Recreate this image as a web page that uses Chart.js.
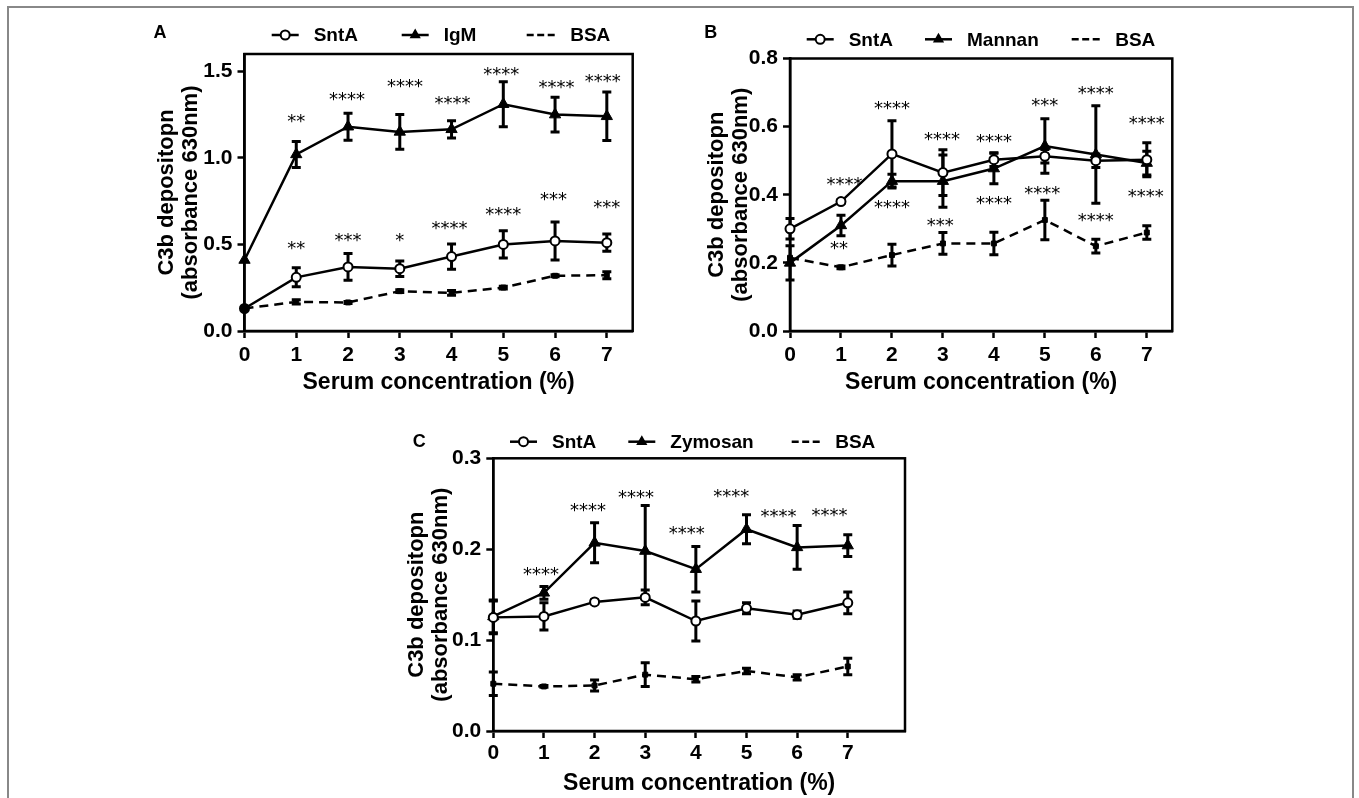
<!DOCTYPE html>
<html>
<head>
<meta charset="utf-8">
<script src="https://cdn.jsdelivr.net/npm/chart.js@4.4.0/dist/chart.umd.min.js"></script>
<style>
  html, body { margin: 0; padding: 0; background: #fff; }
  body { width: 1359px; height: 798px; position: relative; overflow: hidden; }
  #frame { position: absolute; left: 7px; top: 6px; width: 1343px; height: 820px;
           border: 2px solid #888; border-bottom: none; }
  canvas { position: absolute; }
</style>
</head>
<body>
<div id="frame"></div>
<canvas id="chartA" width="520" height="395" style="left:140px;top:10px"></canvas>
<canvas id="chartB" width="520" height="395" style="left:690px;top:10px"></canvas>
<canvas id="chartC" width="540" height="388" style="left:390px;top:410px"></canvas>
<script>
(function() {

    // serum concentration (%) on the x axis
    var xValues = [0, 1, 2, 3, 4, 5, 6, 7];
    var xTicks = [0, 1, 2, 3, 4, 5, 6, 7];

    // Panel A - SntA vs IgM
    var aSntA = [0.13, 0.31, 0.37, 0.36, 0.43, 0.50, 0.52, 0.51];
    var aSntAErr = [0, 0.055, 0.077, 0.045, 0.073, 0.079, 0.11, 0.05];
    var aIgM = [0.41, 1.02, 1.18, 1.15, 1.165, 1.31, 1.25, 1.24];
    var aIgMErr = [0, 0.075, 0.078, 0.10, 0.05, 0.13, 0.10, 0.14];
    var aBSA = [0.13, 0.168, 0.165, 0.23, 0.22, 0.251, 0.319, 0.322];
    var aBSAErr = [0, 0.012, 0.006, 0.008, 0.014, 0.008, 0.006, 0.02];
    var aYTicks = [0, 0.5, 1.0, 1.5];
    var aIgMStars = ['', '**', '****', '****', '****', '****', '****', '****'];
    var aIgMStarX = [null, 1, 1.98, 3.1, 4.02, 4.96, 6.03, 6.92];
    var aIgMStarY = [null, 1.236, 1.359, 1.438, 1.340, 1.504, 1.429, 1.467];
    var aSntAStars = ['', '**', '***', '*', '****', '****', '***', '***'];
    var aSntAStarX = [null, 1, 2, 3, 3.96, 5, 5.97, 7];
    var aSntAStarY = [null, 0.502, 0.544, 0.544, 0.616, 0.695, 0.782, 0.737];

    // Panel B - SntA vs Mannan
    var bSntA = [0.30, 0.38, 0.52, 0.465, 0.503, 0.513, 0.50, 0.503];
    var bSntAErr = [0.03, 0.005, 0.097, 0.067, 0.02, 0.02, 0.02, 0.05];
    var bMannan = [0.20, 0.31, 0.44, 0.44, 0.477, 0.543, 0.518, 0.493];
    var bMannanErr = [0.05, 0.03, 0.02, 0.077, 0.045, 0.08, 0.143, 0.035];
    var bBSA = [0.215, 0.187, 0.223, 0.257, 0.257, 0.326, 0.249, 0.289];
    var bBSAErr = [0, 0.004, 0.032, 0.032, 0.033, 0.058, 0.02, 0.02];
    var bYTicks = [0, 0.2, 0.4, 0.6, 0.8];
    var bUpperStars = ['', '****', '****', '****', '****', '***', '****', '****'];
    var bUpperX = [null, 1.07, 2, 2.98, 4, 5, 6, 7];
    var bUpperY = [null, 0.443, 0.666, 0.573, 0.568, 0.673, 0.709, 0.622];
    var bLowerStars = ['', '**', '****', '***', '****', '****', '****', '****'];
    var bLowerX = [null, 0.96, 2, 2.95, 4, 4.95, 6, 6.98];
    var bLowerY = [null, 0.255, 0.375, 0.321, 0.386, 0.414, 0.335, 0.406];

    // Panel C - SntA vs Zymosan
    var cSntA = [0.125, 0.126, 0.142, 0.147, 0.121, 0.135, 0.128, 0.141];
    var cSntAErr = [0.018, 0.015, 0.002, 0.008, 0.022, 0.006, 0.004, 0.012];
    var cZymosan = [0.126, 0.152, 0.207, 0.198, 0.178, 0.222, 0.202, 0.204];
    var cZymosanErr = [0.018, 0.007, 0.022, 0.05, 0.025, 0.016, 0.024, 0.012];
    var cBSA = [0.052, 0.049, 0.050, 0.062, 0.057, 0.066, 0.059, 0.071];
    var cBSAErr = [0.013, 0.001, 0.006, 0.013, 0.003, 0.003, 0.003, 0.009];
    var cYTicks = [0, 0.1, 0.2, 0.3];
    var cStars = ['', '****', '****', '****', '****', '****', '****', '****'];
    var cStarX = [null, 0.94, 1.87, 2.82, 3.82, 4.70, 5.63, 6.64];
    var cStarY = [null, 0.177, 0.247, 0.2615, 0.222, 0.2626, 0.240, 0.242];

    var black = '#000';
    var family = "'Liberation Sans', Arial, Helvetica, sans-serif";
    var starFont = "normal 18px 'DejaVu Sans', sans-serif";

    function points(ys) {
        return xValues.map(function(x, i) { return {x: x, y: ys[i]}; });
    }

    function openCircle(ys, fills) {
        return { data: points(ys), borderColor: black, borderWidth: 2.5, pointStyle: 'circle',
                 pointRadius: 4.5, pointBorderWidth: 2, pointBackgroundColor: fills || '#fff',
                 pointBorderColor: black, tension: 0, clip: false };
    }
    function triangle(ys) {
        return { data: points(ys), borderColor: black, borderWidth: 2.5, pointStyle: 'triangle',
                 pointRadius: 6.5, pointBorderWidth: 1, pointBackgroundColor: black,
                 pointBorderColor: black, tension: 0, clip: false };
    }
    function dashed(ys) {
        return { data: points(ys), borderColor: black, borderWidth: 2.5, borderDash: [9, 6],
                 pointStyle: 'rect', pointRadius: 3.5, pointBorderWidth: 1, pointBackgroundColor: black,
                 pointBorderColor: black, tension: 0, clip: false };
    }

    function drawMarker(ctx, kind, x, y) {
        ctx.beginPath();
        if (kind === 'circle') {
            ctx.fillStyle = '#fff'; ctx.lineWidth = 2;
            ctx.arc(x, y, 4.5, 0, Math.PI * 2);
            ctx.fill(); ctx.stroke();
        } else if (kind === 'triangle') {
            ctx.fillStyle = black;
            ctx.moveTo(x, y - 6.5);
            ctx.lineTo(x + 5.6, y + 3.25);
            ctx.lineTo(x - 5.6, y + 3.25);
            ctx.closePath(); ctx.fill();
        }
    }

    function makePanel(id, p) {
        var plugin = {
            id: 'panel' + id,
            beforeDatasetsDraw: function(chart) {
                var ctx = chart.ctx, a = chart.chartArea;
                var xs = chart.scales.x, ys = chart.scales.y;
                ctx.save();
                // box round the plot
                ctx.strokeStyle = black; ctx.lineWidth = 2.5;
                ctx.strokeRect(a.left, a.top, a.right - a.left, a.bottom - a.top);
                // error bars
                ctx.lineWidth = 3;
                p.errors.forEach(function(errs, d) {
                    var means = p.means[d];
                    errs.forEach(function(e, i) {
                        if (!e) { return; }
                        var px = xs.getPixelForValue(xValues[i]);
                        var t = ys.getPixelForValue(means[i] + e);
                        var b = ys.getPixelForValue(means[i] - e);
                        ctx.beginPath();
                        ctx.moveTo(px, t); ctx.lineTo(px, b);
                        ctx.moveTo(px - 4.5, t); ctx.lineTo(px + 4.5, t);
                        ctx.moveTo(px - 4.5, b); ctx.lineTo(px + 4.5, b);
                        ctx.stroke();
                    });
                });
                ctx.restore();
            },
            afterDatasetsDraw: function(chart) {
                var ctx = chart.ctx, xs = chart.scales.x, ys = chart.scales.y;
                ctx.save();
                ctx.fillStyle = black; ctx.font = starFont;
                ctx.textAlign = 'center'; ctx.textBaseline = 'alphabetic';
                p.stars.forEach(function(s) {
                    s.text.forEach(function(t, i) {
                        if (!t) { return; }
                        ctx.fillText(t, xs.getPixelForValue(s.x[i]), ys.getPixelForValue(s.y[i]) + 9.5);
                    });
                });
                ctx.restore();
            },
            afterDraw: function(chart) {
                var ctx = chart.ctx;
                ctx.save();
                ctx.fillStyle = black; ctx.strokeStyle = black;
                ctx.textAlign = 'center'; ctx.textBaseline = 'middle';
                ctx.font = 'bold 18px ' + family;
                ctx.fillText(p.letter, p.letterX, p.letterY);
                // legend: line sample with marker, then the name
                ctx.textAlign = 'left';
                ctx.font = 'bold 19px ' + family;
                p.legend.forEach(function(item, k) {
                    var x0 = p.legendX[k], y = p.legendY;
                    ctx.lineWidth = 2.5;
                    ctx.beginPath();
                    if (item.kind === 'dash') {
                        ctx.setLineDash([7, 3.5]);
                        ctx.moveTo(x0, y); ctx.lineTo(x0 + 28, y);
                        ctx.stroke(); ctx.setLineDash([]);
                        ctx.fillStyle = black;
                        ctx.fillText(item.label, x0 + 43.5, y + 1);
                    } else {
                        ctx.moveTo(x0, y); ctx.lineTo(x0 + 27, y); ctx.stroke();
                        drawMarker(ctx, item.kind, x0 + 13.5, y);
                        ctx.fillStyle = black;
                        ctx.fillText(item.label, x0 + 42, y + 1);
                    }
                });
                ctx.restore();
            }
        };

        return new Chart(document.getElementById(id), {
            type: 'line',
            data: { datasets: p.datasets },
            options: {
                responsive: false,
                animation: false,
                layout: { padding: { left: 0, top: p.top, right: p.right, bottom: 0 } },
                plugins: { legend: { display: false }, tooltip: { enabled: false } },
                scales: {
                    x: {
                        type: 'linear', min: 0, max: p.xMax,
                        afterBuildTicks: function(s) { s.ticks = xTicks.map(function(v) { return {value: v}; }); },
                        afterFit: function(s) { s.height = p.xHeight; },
                        ticks: { color: black, padding: p.xPad, font: { family: family, size: 21, weight: 'bold' },
                                 callback: function(v) { return String(v); } },
                        grid: { drawOnChartArea: false, drawTicks: true, tickLength: 7, tickWidth: 2.5, tickColor: black },
                        border: { color: black, width: 2.5 },
                        title: { display: true, text: 'Serum concentration (%)', color: black,
                                 font: { family: family, size: 23, weight: 'bold', lineHeight: 1.15 },
                                 padding: { top: 0, bottom: p.xTitlePad } }
                    },
                    y: {
                        type: 'linear', min: 0, max: p.yMax,
                        afterBuildTicks: function(s) { s.ticks = p.yTicks.map(function(v) { return {value: v}; }); },
                        afterFit: function(s) { s.width = p.yWidth; },
                        ticks: { color: black, padding: 5, font: { family: family, size: 21, weight: 'bold' },
                                 callback: function(v) { return Number(v).toFixed(1); } },
                        grid: { drawOnChartArea: false, drawTicks: true, tickLength: 7, tickWidth: 2.5, tickColor: black },
                        border: { color: black, width: 2.5 },
                        title: { display: true, text: ['C3b depositopn', '(absorbance 630nm)'], color: black,
                                 font: { family: family, size: 22, weight: 'bold', lineHeight: 1.08 },
                                 padding: { top: 14.8, bottom: 0 } }
                    }
                }
            },
            plugins: [plugin]
        });
    }

    makePanel('chartA', {
        datasets: [openCircle(aSntA, ['#000', '#fff', '#fff', '#fff', '#fff', '#fff', '#fff', '#fff']),
                   triangle(aIgM), dashed(aBSA)],
        means: [aSntA, aIgM, aBSA], errors: [aSntAErr, aIgMErr, aBSAErr],
        stars: [{text: aIgMStars, x: aIgMStarX, y: aIgMStarY},
                {text: aSntAStars, x: aSntAStarX, y: aSntAStarY}],
        yMax: 1.6, xMax: 7.5, yTicks: aYTicks,
        top: 44, right: 27.3, yWidth: 104.5, xHeight: 74, xPad: 4.4, xTitlePad: 8.8,
        letter: 'A', letterX: 20, letterY: 23,
        legend: [{label: 'SntA', kind: 'circle'}, {label: 'IgM', kind: 'triangle'}, {label: 'BSA', kind: 'dash'}],
        legendX: [131.7, 261.7, 386.7], legendY: 25
    });

    makePanel('chartB', {
        datasets: [openCircle(bSntA), triangle(bMannan), dashed(bBSA)],
        means: [bSntA, bMannan, bBSA], errors: [bSntAErr, bMannanErr, bBSAErr],
        stars: [{text: bUpperStars, x: bUpperX, y: bUpperY},
                {text: bLowerStars, x: bLowerX, y: bLowerY}],
        yMax: 0.8, xMax: 7.5, yTicks: bYTicks,
        top: 48.5, right: 37.7, yWidth: 100, xHeight: 74, xPad: 4.4, xTitlePad: 8.8,
        letter: 'B', letterX: 20.7, letterY: 23,
        legend: [{label: 'SntA', kind: 'circle'}, {label: 'Mannan', kind: 'triangle'}, {label: 'BSA', kind: 'dash'}],
        legendX: [116.7, 235, 381.7], legendY: 29.3
    });

    makePanel('chartC', {
        datasets: [openCircle(cSntA), triangle(cZymosan), dashed(cBSA)],
        means: [cSntA, cZymosan, cBSA], errors: [cSntAErr, cZymosanErr, cBSAErr],
        stars: [{text: cStars, x: cStarX, y: cStarY}],
        yMax: 0.3, xMax: 8.13, yTicks: cYTicks,
        top: 48.3, right: 25, yWidth: 103.3, xHeight: 67, xPad: 2.4, xTitlePad: 1.5,
        letter: 'C', letterX: 29.3, letterY: 31.7,
        legend: [{label: 'SntA', kind: 'circle'}, {label: 'Zymosan', kind: 'triangle'}, {label: 'BSA', kind: 'dash'}],
        legendX: [120, 238.3, 401.7], legendY: 31.7
    });

})();
</script>
</body>
</html>
